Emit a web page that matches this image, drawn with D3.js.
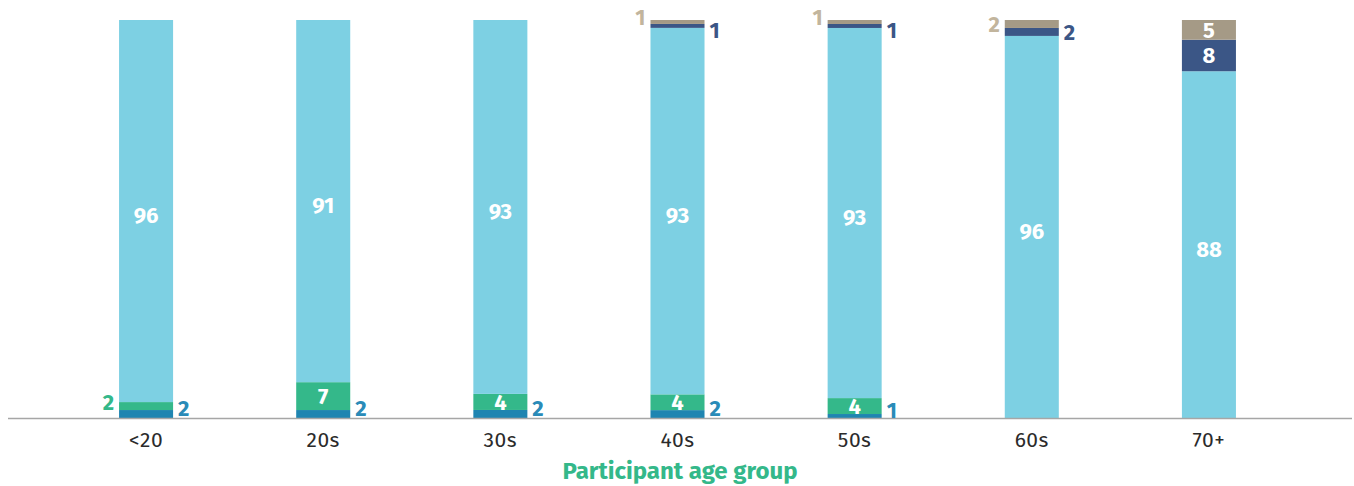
<!DOCTYPE html>
<html>
<head>
<meta charset="utf-8">
<script src="https://cdn.jsdelivr.net/npm/d3@7"></script>
<style>
  body { margin: 0; background: #fff; }
  text { font-family: "Fira Sans", "Noto Sans", "Open Sans", sans-serif; }
</style>
</head>
<body>
<div id="chart_container"></div>
<script>
// age groups along the x axis
let groups = ["<20", "20s", "30s", "40s", "50s", "60s", "70+"];

// series, bottom to top
let seriesKeys = ["blue", "green", "light", "navy", "tan"];
let blueVals  = [2, 2, 2, 2, 1, 0, 0];
let greenVals = [2, 7, 4, 4, 4, 0, 0];
let lightVals = [96, 91, 93, 93, 93, 96, 88];
let navyVals  = [0, 0, 0, 1, 1, 2, 8];
let tanVals   = [0, 0, 0, 1, 1, 2, 5];

const colors = {
    blue: "#1f85b1",
    green: "#34b88a",
    light: "#7dd0e3",
    navy: "#3b5686",
    tan: "#a59a86"
};
const labelColors = {
    blue: "#2a8bb8",
    green: "#34b88a",
    light: "#ffffff",
    navy: "#3b5686",
    tan: "#c2b59d"
};

const rows = groups.map((g, i) => ({
    group: g,
    blue: blueVals[i],
    green: greenVals[i],
    light: lightVals[i],
    navy: navyVals[i],
    tan: tanVals[i]
}));

var width = 1354, height = 486;

var svg = d3.select("#chart_container")
    .append("svg")
    .attr("width", width)
    .attr("height", height);

var x = d3.scaleBand()
    .domain(groups)
    .range([57.5, 1297.5])
    .paddingInner(0.695)
    .paddingOuter(0.3475);

var y = d3.scaleLinear()
    .domain([0, 1])
    .range([418, 20]);

var stacked = d3.stack()
    .keys(seriesKeys)
    .offset(d3.stackOffsetExpand)(rows);

// bars
svg.append("g")
    .selectAll("g")
    .data(stacked)
    .enter()
    .append("g")
    .attr("fill", d => colors[d.key])
    .selectAll("rect")
    .data(d => d.map(p => ({p: p, key: d.key})))
    .enter()
    .append("rect")
    .attr("x", d => x(d.p.data.group))
    .attr("width", x.bandwidth())
    .attr("y", d => y(d.p[1]))
    .attr("height", d => y(d.p[0]) - y(d.p[1]));

// axis line
svg.append("line")
    .attr("x1", 8).attr("x2", 1352)
    .attr("y1", 418.5).attr("y2", 418.5)
    .attr("stroke", "#a6a6a6")
    .attr("stroke-width", 1.5);

// tick labels
svg.append("g")
    .selectAll("text")
    .data(groups)
    .enter()
    .append("text")
    .attr("x", d => x(d) + x.bandwidth() / 2)
    .attr("y", 447)
    .attr("text-anchor", "middle")
    .attr("font-size", 21)
    .attr("letter-spacing", 0.5)
    .attr("fill", "#2b2b2b")
    .text(d => d);

// value labels
var labels = [];
stacked.forEach(s => {
    s.forEach(p => {
        const v = p.data[s.key];
        if (!v) return;
        const inside = v >= 4;
        const cy = (y(p[0]) + y(p[1])) / 2;
        let lx = x(p.data.group), anchor = "middle", dy = 0;
        if (inside) {
            lx += x.bandwidth() / 2;
            if (s.key === "light") dy = 4;
        } else if (s.key === "green" || s.key === "tan") {
            lx -= 5; anchor = "end";
            if (s.key === "tan" && v <= 1) dy = -5;
            if (s.key === "green") dy = -4;
        } else {
            lx += x.bandwidth() + 5; anchor = "start";
            if (s.key === "navy" && v <= 1) dy = 4;
            if (s.key === "blue") dy = -6;
        }
        labels.push({
            x: lx, y: cy + dy, anchor: anchor, text: v,
            fill: inside ? "#ffffff" : labelColors[s.key]
        });
    });
});

svg.append("g")
    .selectAll("text")
    .data(labels)
    .enter()
    .append("text")
    .attr("x", d => d.x)
    .attr("y", d => d.y)
    .attr("dy", "0.36em")
    .attr("text-anchor", d => d.anchor)
    .attr("font-size", 22)
    .attr("font-weight", "bold")
    .attr("fill", d => d.fill)
    .text(d => d.text);

// axis title
svg.append("text")
    .attr("x", 680)
    .attr("y", 479)
    .attr("text-anchor", "middle")
    .attr("font-size", 24)
    .attr("font-weight", "bold")
    .attr("fill", "#34b88a")
    .text("Participant age group");
</script>
</body>
</html>
